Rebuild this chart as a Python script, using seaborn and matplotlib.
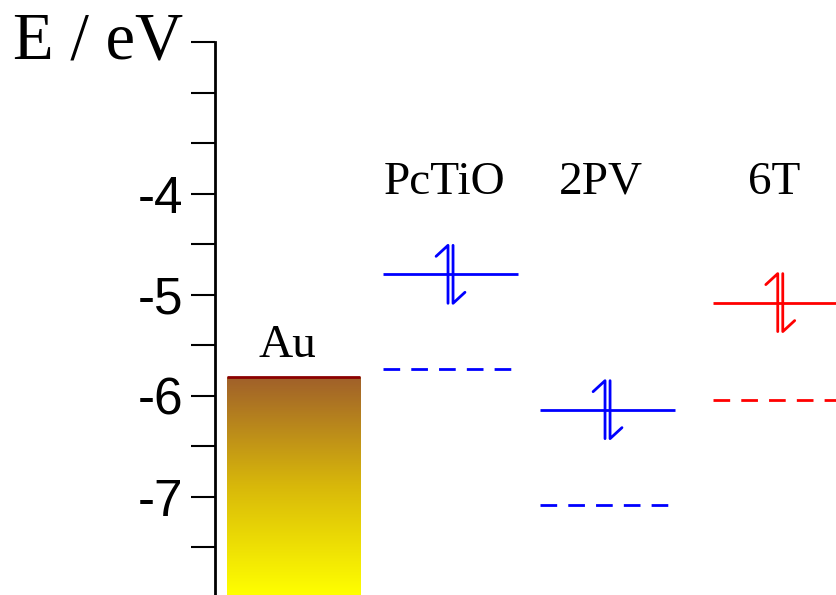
import numpy as np
import matplotlib
matplotlib.use("Agg")
import matplotlib.pyplot as plt
import seaborn as sns
from matplotlib.colors import LinearSegmentedColormap

# energy levels (eV)
materials = ["PcTiO", "2PV", "6T"]
positions = [1.0, 2.0, 3.1]
homo = [-4.80, -6.14, -5.08]
lumo = [-5.74, -7.08, -6.04]
level_colors = ["#0000ff", "#0000ff", "#ff0000"]

metal = "Au"
metal_pos = 0.0
metal_level = -5.82

tick_values = [-2.5, -3.0, -3.5, -4.0, -4.5, -5.0, -5.5, -6.0, -6.5, -7.0, -7.5]
tick_labels = ["E / eV", "", "", "-4", "", "-5", "", "-6", "", "-7", ""]

sns.set_theme(style="white")
plt.rcParams["font.family"] = ["Liberation Serif", "DejaVu Serif"]
plt.rcParams["text.color"] = "black"
plt.rcParams["ytick.color"] = "black"

fig = plt.figure(figsize=(8.36, 5.95), dpi=100)
ax = fig.add_axes([215 / 836, 0, 621 / 836, 553 / 595])
ymin, ymax = -7.975, -2.5
ax.set_xlim(-0.5, 3.455)
ax.set_ylim(ymin, ymax)

w = 0.86
lw = 2.0

# gold bar with gradient
gold = LinearSegmentedColormap.from_list("gold", ["#ffff00", "#d8b80a", "#a0602a"])
grad = np.linspace(0, 1, 256).reshape(-1, 1)
ax.imshow(grad, cmap=gold, origin="lower", aspect="auto",
          extent=[metal_pos - 0.425, metal_pos + 0.425, ymin, metal_level], zorder=1)
ax.hlines(metal_level, metal_pos - 0.425, metal_pos + 0.425, color="#8b0000", lw=2, zorder=2)
ax.text(metal_pos - 0.04, metal_level + 0.2, metal, ha="center", va="baseline",
        fontsize=34, color="black")

# molecular levels
dx, h, bx, by = 0.016, 0.287, 0.076, 0.109
for name, x, hm, lm, c in zip(materials, positions, homo, lumo, level_colors):
    ax.hlines(hm, x - w / 2, x + w / 2, color=c, lw=lw)
    ax.plot([x - w / 2, x + w / 2], [lm, lm], color=c, lw=lw, dashes=(6, 4))
    # spin-paired electrons
    ax.plot([x - dx - bx, x - dx, x - dx], [hm + h - by, hm + h, hm - h], color=c, lw=lw)
    ax.plot([x + dx, x + dx, x + dx + bx], [hm + h, hm - h, hm - h + by], color=c, lw=lw)
    ax.text(x - 0.04, -4.0, name, ha="center", va="baseline", fontsize=34, color="black")

# axis styling
for s in ["top", "right", "bottom"]:
    ax.spines[s].set_visible(False)
ax.spines["left"].set_color("black")
ax.spines["left"].set_linewidth(2.0)
ax.set_xticks([])
ax.set_yticks(tick_values)
ax.set_yticklabels(tick_labels)
ax.tick_params(axis="y", direction="out", length=17, width=1.5, colors="black",
               pad=6, left=True, labelsize=37)
for lab in ax.get_yticklabels():
    lab.set_fontfamily(["Liberation Sans", "DejaVu Sans"])
    if lab.get_text() == "E / eV":
        lab.set_fontfamily(["Liberation Serif", "DejaVu Serif"])
        lab.set_fontsize(48)
        lab.set_va("center")

fig.savefig("out.png", dpi=100)
plt.close(fig)
